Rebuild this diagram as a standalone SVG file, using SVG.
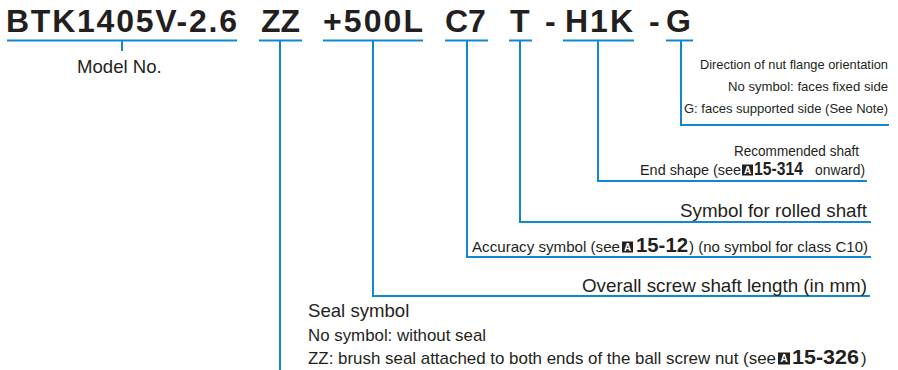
<svg xmlns="http://www.w3.org/2000/svg" width="898" height="370" viewBox="0 0 898 370">
<style>
.code{font-family:"Liberation Sans",Arial,sans-serif;font-weight:bold;font-size:32px;fill:#231f20}
.lbl{font-family:"Liberation Sans",Arial,sans-serif;font-size:18.6px;fill:#231f20}
.mid{font-family:"Liberation Sans",Arial,sans-serif;font-size:16.6px;fill:#231f20}
.sm{font-family:"Liberation Sans",Arial,sans-serif;font-size:14.5px;fill:#231f20}
.xs{font-family:"Liberation Sans",Arial,sans-serif;font-size:13px;fill:#231f20}
.ref{font-family:"Liberation Sans",Arial,sans-serif;font-weight:bold;fill:#231f20}
.box{fill:#231f20}
.boxt{font-family:"Liberation Sans",Arial,sans-serif;font-weight:bold;font-size:10px;fill:#fff}
.ln{stroke:#1186d1;stroke-width:2;fill:none}
</style>
<rect width="898" height="370" fill="#fff"/>
<g id="code">
<text class="code" x="6" y="32" textLength="231" lengthAdjust="spacing">BTK1405V-2.6</text>
<text class="code" x="261" y="32">ZZ</text>
<text class="code" x="323" y="32" textLength="100" lengthAdjust="spacing">+500L</text>
<text class="code" x="445" y="32">C7</text>
<text class="code" x="510" y="32">T</text>
<text class="code" x="545" y="32">-</text>
<text class="code" x="565" y="32" textLength="68" lengthAdjust="spacing">H1K</text>
<text class="code" x="649" y="32">-</text>
<text class="code" x="666" y="32">G</text>
</g>
<g id="connectors" class="ln">
<path d="M7 40.5H237M259 40.5H302M323 40.5H423M445 40.5H488M509 40.5H532M563 40.5H634M666 40.5H693"/>
<path d="M122 40V51"/>
<path d="M280 40V370"/>
<path d="M373 40V296H870"/>
<path d="M467 40V257H871"/>
<path d="M520 40V222H871"/>
<path d="M598 40V181H867"/>
<path d="M681 40V125H889"/>
</g>
<g id="model-no">
<text class="lbl" x="77" y="73">Model No.</text>
</g>
<g id="flange-direction">
<text class="xs" x="700" y="69" textLength="188" lengthAdjust="spacingAndGlyphs">Direction of nut flange orientation</text>
<text class="xs" x="728" y="91" textLength="160" lengthAdjust="spacingAndGlyphs">No symbol: faces fixed side</text>
<text class="xs" x="684" y="113" textLength="204" lengthAdjust="spacingAndGlyphs">G: faces supported side (See Note)</text>
</g>
<g id="end-shape">
<text class="sm" x="734" y="156" textLength="125" lengthAdjust="spacingAndGlyphs">Recommended shaft</text>
<text class="sm" x="640" y="175" textLength="101" lengthAdjust="spacingAndGlyphs">End shape (see</text>
<rect class="box" x="742" y="164.5" width="11" height="11"/>
<text class="boxt" x="747.5" y="173.5" text-anchor="middle">A</text>
<text class="ref" font-size="19" x="754" y="175" textLength="49" lengthAdjust="spacingAndGlyphs">15-314</text>
<text class="sm" x="815" y="175" textLength="50" lengthAdjust="spacingAndGlyphs">onward)</text>
</g>
<g id="rolled-shaft">
<text class="lbl" x="680" y="217" textLength="187" lengthAdjust="spacingAndGlyphs">Symbol for rolled shaft</text>
</g>
<g id="accuracy">
<text class="sm" x="472" y="252" textLength="148" lengthAdjust="spacingAndGlyphs">Accuracy symbol (see</text>
<rect class="box" x="622" y="241.5" width="11" height="11"/>
<text class="boxt" x="627.5" y="250.5" text-anchor="middle">A</text>
<text class="ref" font-size="21" x="636" y="252" textLength="52" lengthAdjust="spacingAndGlyphs">15-12</text>
<text class="sm" x="689" y="252" textLength="179" lengthAdjust="spacingAndGlyphs">) (no symbol for class C10)</text>
</g>
<g id="shaft-length">
<text class="lbl" x="582" y="292" textLength="285" lengthAdjust="spacingAndGlyphs">Overall screw shaft length (in mm)</text>
</g>
<g id="seal">
<text class="lbl" x="308" y="317">Seal symbol</text>
<text class="mid" x="308" y="341" textLength="178" lengthAdjust="spacingAndGlyphs">No symbol: without seal</text>
<text class="mid" x="308" y="364" textLength="468" lengthAdjust="spacingAndGlyphs">ZZ: brush seal attached to both ends of the ball screw nut (see</text>
<rect class="box" x="778" y="352.5" width="12" height="12"/>
<text class="boxt" x="784" y="362" text-anchor="middle">A</text>
<text class="ref" font-size="21" x="792" y="364" textLength="67" lengthAdjust="spacingAndGlyphs">15-326</text>
<text class="mid" x="861" y="364">)</text>
</g>
</svg>
